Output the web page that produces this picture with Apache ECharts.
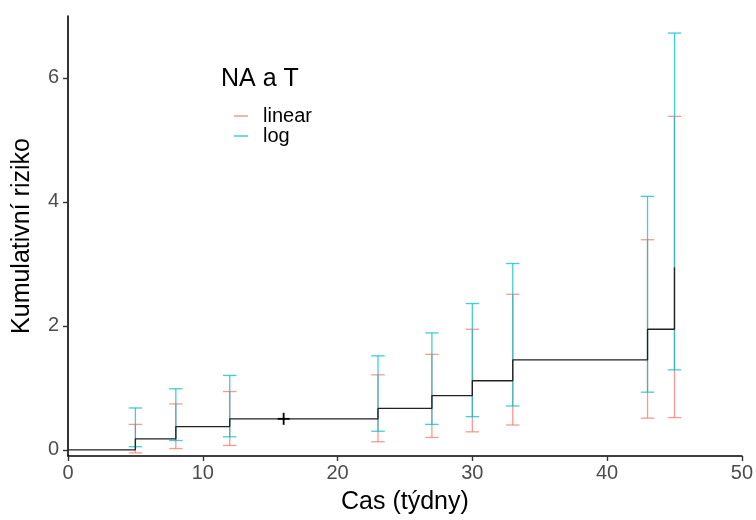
<!DOCTYPE html>
<html>
<head>
<meta charset="utf-8">
<script src="https://cdn.jsdelivr.net/npm/echarts@6/dist/echarts.min.js"></script>
<style>
  html, body { margin: 0; padding: 0; background: #fff; }
  #chart { width: 756px; height: 520px; }
</style>
</head>
<body>
<div id="chart"></div>
<script>
// kumulativni riziko (Nelson-Aalen) - schody
var stepTimes  = [0, 5, 8, 12, 23, 27, 30, 33, 43, 45];
var stepValues = [0, 0.177, 0.375, 0.5, 0.67, 0.873, 1.114, 1.45, 1.945, 2.94];

// cenzurovana pozorovani
var censorTimes  = [16];
var censorValues = [0.5];

// intervaly spolehlivosti v casech udalosti
var eventTimes = [5, 8, 12, 23, 27, 30, 33, 43, 45];
var linLow  = [-0.05, 0.02, 0.07, 0.13, 0.20, 0.29, 0.40, 0.51, 0.52];
var linHigh = [0.41, 0.74, 0.94, 1.21, 1.54, 1.945, 2.51, 3.39, 5.38];
var logLow  = [0.05, 0.15, 0.21, 0.30, 0.41, 0.535, 0.707, 0.93, 1.29];
var logHigh = [0.675, 0.985, 1.20, 1.516, 1.886, 2.36, 3.006, 4.09, 6.725];

var yTicks = [0, 2, 4, 6];

var chart = echarts.init(document.getElementById('chart'));

function errData(low, high) {
  return eventTimes.map(function (t, i) { return [t, low[i], high[i]]; });
}

// vykresleni chybove useky
function renderErr(params, api) {
  var lo = api.coord([api.value(0), api.value(1)]);
  var hi = api.coord([api.value(0), api.value(2)]);
  var w = 6.7;
  var st = { stroke: api.visual('color'), lineWidth: 1.3 };
  return {
    type: 'group',
    children: [
      { type: 'line', shape: { x1: lo[0], y1: lo[1], x2: hi[0], y2: hi[1] }, style: st },
      { type: 'line', shape: { x1: lo[0] - w, y1: lo[1], x2: lo[0] + w, y2: lo[1] }, style: st },
      { type: 'line', shape: { x1: hi[0] - w, y1: hi[1], x2: hi[0] + w, y2: hi[1] }, style: st }
    ]
  };
}

function renderCensor(params, api) {
  var p = api.coord([api.value(0), api.value(1)]);
  var s = 6;
  var st = { stroke: '#000', lineWidth: 1.8 };
  return {
    type: 'group',
    children: [
      { type: 'line', shape: { x1: p[0] - s, y1: p[1], x2: p[0] + s, y2: p[1] }, style: st },
      { type: 'line', shape: { x1: p[0], y1: p[1] - s, x2: p[0], y2: p[1] + s }, style: st }
    ]
  };
}

var fontF = '"Liberation Sans", Arial, sans-serif';

chart.setOption({
  animation: false,
  textStyle: { fontFamily: fontF },
  color: ['rgba(248,118,109,0.75)', 'rgba(0,191,196,0.75)'],
  grid: { left: 68, right: 13, top: 16, bottom: 63 },
  title: {
    text: 'NA a T',
    left: 216, top: 62,
    textStyle: { fontSize: 25, fontWeight: 'normal', color: '#000', fontFamily: fontF }
  },
  legend: {
    orient: 'vertical',
    left: 229, top: 101,
    itemWidth: 14, itemHeight: 1.5, itemGap: 0,
    icon: 'rect',
    textStyle: { fontSize: 20, lineHeight: 19, color: '#000', fontFamily: fontF, padding: [0, 0, 0, 10] },
    data: ['linear', 'log']
  },
  xAxis: {
    type: 'value',
    min: 0, max: 50, interval: 10,
    name: 'Cas (týdny)',
    nameLocation: 'middle', nameGap: 34,
    nameTextStyle: { fontSize: 25, color: '#000' },
    splitLine: { show: false },
    axisLine: { onZero: false, lineStyle: { color: '#000', width: 1.6 } },
    axisTick: { length: 5, lineStyle: { color: '#333', width: 1.4 } },
    axisLabel: { fontSize: 20, color: '#4d4d4d', margin: 7 }
  },
  yAxis: {
    type: 'value',
    min: -0.1, max: 7,
    name: 'Kumulativní riziko',
    nameLocation: 'middle', nameGap: 33,
    nameTextStyle: { fontSize: 25, color: '#000' },
    splitLine: { show: false },
    axisLine: { show: true, onZero: false, lineStyle: { color: '#000', width: 1.6 } },
    axisTick: { show: true, length: 5, customValues: yTicks, lineStyle: { color: '#333', width: 1.4 } },
    axisLabel: { fontSize: 20, color: '#4d4d4d', margin: 9, customValues: yTicks }
  },
  series: [
    {
      name: 'linear',
      type: 'custom',
      renderItem: renderErr,
      clip: false,
      itemStyle: { color: 'rgba(248,118,109,0.75)' },
      data: errData(linLow, linHigh),
      z: 2
    },
    {
      name: 'log',
      type: 'custom',
      renderItem: renderErr,
      clip: false,
      itemStyle: { color: 'rgba(0,191,196,0.75)' },
      data: errData(logLow, logHigh),
      z: 3
    },
    {
      name: 'NA',
      type: 'line',
      step: 'end',
      symbol: 'none',
      lineStyle: { color: '#222', width: 1.3 },
      data: stepTimes.map(function (t, i) { return [t, stepValues[i]]; }),
      z: 4
    },
    {
      name: 'cenzura',
      type: 'custom',
      renderItem: renderCensor,
      data: censorTimes.map(function (t, i) { return [t, censorValues[i]]; }),
      z: 5
    }
  ]
});
</script>
</body>
</html>
